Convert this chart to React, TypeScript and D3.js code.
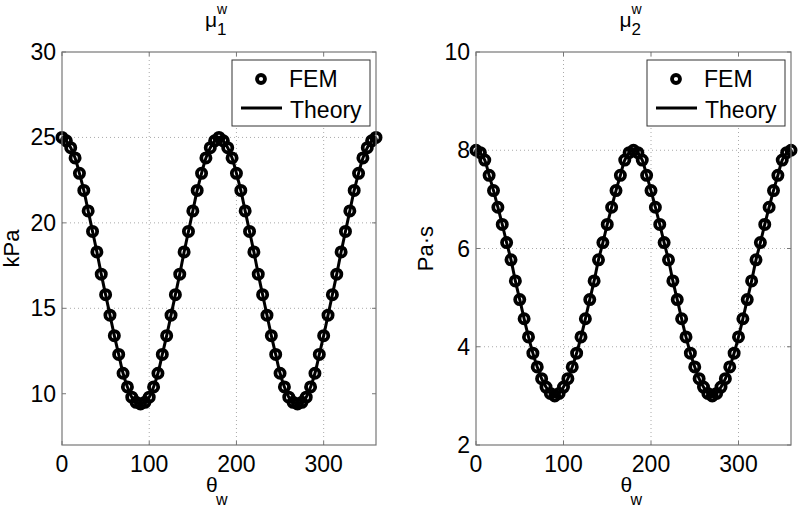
import React from 'react';
import * as d3 from 'd3';

// wave angle, degrees
const angles = [
  0, 5, 10, 15, 20, 25, 30, 35, 40, 45, 50, 55, 60, 65, 70, 75, 80, 85, 90,
  95, 100, 105, 110, 115, 120, 125, 130, 135, 140, 145, 150, 155, 160, 165, 170, 175, 180,
  185, 190, 195, 200, 205, 210, 215, 220, 225, 230, 235, 240, 245, 250, 255, 260, 265, 270,
  275, 280, 285, 290, 295, 300, 305, 310, 315, 320, 325, 330, 335, 340, 345, 350, 355, 360
];

// mu1 (kPa)
const mu1 = [
  25.0, 24.8, 24.4, 23.8, 22.9, 21.9, 20.7, 19.5, 18.3, 17.0, 15.8, 14.6, 13.4, 12.3, 11.2, 10.4, 9.8, 9.5, 9.4,
  9.5, 9.8, 10.4, 11.2, 12.3, 13.4, 14.6, 15.8, 17.0, 18.3, 19.5, 20.7, 21.9, 22.9, 23.8, 24.4, 24.8, 25.0,
  24.8, 24.4, 23.8, 22.9, 21.9, 20.7, 19.5, 18.3, 17.0, 15.8, 14.6, 13.4, 12.3, 11.2, 10.4, 9.8, 9.5, 9.4,
  9.5, 9.8, 10.4, 11.2, 12.3, 13.4, 14.6, 15.8, 17.0, 18.3, 19.5, 20.7, 21.9, 22.9, 23.8, 24.4, 24.8, 25.0
];

// mu2 (Pa.s)
const mu2 = [
  8.0, 7.95, 7.8, 7.49, 7.18, 6.84, 6.49, 6.12, 5.77, 5.34, 4.96, 4.57, 4.2, 3.87, 3.59, 3.35, 3.18, 3.05, 3.0,
  3.05, 3.18, 3.35, 3.59, 3.87, 4.2, 4.57, 4.96, 5.34, 5.77, 6.12, 6.49, 6.84, 7.18, 7.49, 7.8, 7.95, 8.0,
  7.95, 7.8, 7.49, 7.18, 6.84, 6.49, 6.12, 5.77, 5.34, 4.96, 4.57, 4.2, 3.87, 3.59, 3.35, 3.18, 3.05, 3.0,
  3.05, 3.18, 3.35, 3.59, 3.87, 4.2, 4.57, 4.96, 5.34, 5.77, 6.12, 6.49, 6.84, 7.18, 7.49, 7.8, 7.95, 8.0
];

const xTicks = [0, 100, 200, 300];
const yTicks1 = [10, 15, 20, 25, 30];
const yTicks2 = [2, 4, 6, 8, 10];
const legendLabels = ['FEM', 'Theory'];

const FONT = '"Liberation Sans", Arial, Helvetica, sans-serif';

type PanelProps = {
  left: number;
  right: number;
  values: number[];
  yDomain: [number, number];
  yTicks: number[];
  sub: string;
  yLabel: string;
};

const top = 52;
const bottom = 445;
const markR = 4.6;
const markW = 3.8;

const Panel = ({ left, right, values, yDomain, yTicks, sub, yLabel }: PanelProps) => {
  const x = d3.scaleLinear().domain([0, 360]).range([left, right]);
  const y = d3.scaleLinear().domain(yDomain).range([bottom, top]);
  const pts = angles.map((a, i) => [a, values[i]] as [number, number]);
  const path = d3
    .line<[number, number]>()
    .x(d => x(d[0]))
    .y(d => y(d[1]))
    .curve(d3.curveCatmullRom)(pts);
  const cx = (left + right) / 2;
  const lgX = right - 144;

  return (
    <g fontFamily={FONT}>
      {/* grid */}
      {xTicks.slice(1).map(t => (
        <line key={'gx' + t} x1={x(t)} x2={x(t)} y1={top} y2={bottom}
          stroke="#aaa" strokeWidth={1} strokeDasharray="1,3" />
      ))}
      {yTicks.slice(1, -1).map(t => (
        <line key={'gy' + t} x1={left} x2={right} y1={y(t)} y2={y(t)}
          stroke="#aaa" strokeWidth={1} strokeDasharray="1,3" />
      ))}
      {/* ticks */}
      {xTicks.map(t => (
        <g key={'tx' + t}>
          <line x1={x(t)} x2={x(t)} y1={bottom} y2={bottom - 4} stroke="#777" />
          <line x1={x(t)} x2={x(t)} y1={top} y2={top + 4} stroke="#777" />
          <text x={x(t)} y={472} textAnchor="middle" fontSize={23}>{t}</text>
        </g>
      ))}
      {yTicks.map(t => (
        <g key={'ty' + t}>
          <line x1={left} x2={left + 4} y1={y(t)} y2={y(t)} stroke="#777" />
          <line x1={right} x2={right - 4} y1={y(t)} y2={y(t)} stroke="#777" />
          <text x={left - 6} y={y(t) + 8} textAnchor="end" fontSize={23}>{t}</text>
        </g>
      ))}
      {/* data */}
      {pts.map((d, i) => (
        <circle key={i} cx={x(d[0])} cy={y(d[1])} r={markR} fill="none"
          stroke="#000" strokeWidth={markW} />
      ))}
      <path d={path || ''} fill="none" stroke="#000" strokeWidth={3} />
      {/* box */}
      <rect x={left} y={top} width={right - left} height={bottom - top}
        fill="none" stroke="#777" strokeWidth={1.2} />
      {/* legend */}
      <rect x={lgX} y={60} width={138} height={66} fill="#fff" stroke="#333" strokeWidth={1} />
      <circle cx={lgX + 29} cy={79} r={4} fill="none" stroke="#000" strokeWidth={3.8} />
      <text x={lgX + 57} y={87} fontSize={23}>{legendLabels[0]}</text>
      <line x1={lgX + 9} x2={lgX + 50} y1={108} y2={108} stroke="#000" strokeWidth={3} />
      <text x={lgX + 58} y={118} fontSize={23}>{legendLabels[1]}</text>
      {/* titles */}
      <text x={cx - 14} y={27} fontSize={21}>μ</text>
      <text x={cx - 2} y={35} fontSize={17}>{sub}</text>
      <text x={cx - 2} y={14} fontSize={14}>w</text>
      <text x={cx - 13} y={492} fontSize={21}>θ</text>
      <text x={cx - 3} y={505} fontSize={16}>w</text>
      <text transform={`translate(${left - 43},${(top + bottom) / 2}) rotate(-90)`}
        textAnchor="middle" fontSize={22}>{yLabel}</text>
    </g>
  );
};

export default function App() {
  return (
    <svg width={800} height={509} style={{ position: 'absolute', left: 0, top: 0, background: '#fff' }}>
      <rect width={800} height={509} fill="#fff" />
      <Panel left={62} right={376} values={mu1} yDomain={[7, 30]} yTicks={yTicks1} sub="1" yLabel="kPa" />
      <Panel left={476} right={791} values={mu2} yDomain={[2, 10]} yTicks={yTicks2} sub="2" yLabel="Pa·s" />
    </svg>
  );
}
